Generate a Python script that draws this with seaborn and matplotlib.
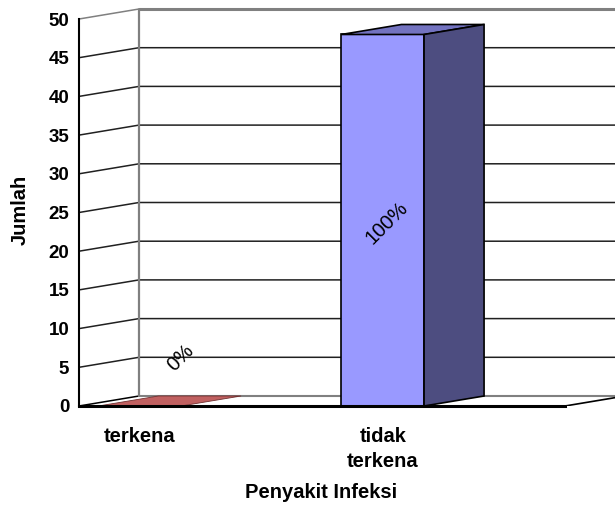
import matplotlib
matplotlib.use("Agg")
import matplotlib.pyplot as plt
from matplotlib.patches import Polygon
import pandas as pd
import seaborn as sns

# Data
categories = ["terkena", "tidak terkena"]
jumlah = [0, 48]
persen = ["0%", "100%"]
# category slots on the x axis (two of them stay empty)
slots = ["terkena", " ", "tidak terkena", "  "]
slot_labels = ["terkena", "", "tidak\nterkena", ""]
y_ticks = list(range(0, 51, 5))

front_colors = {"terkena": "#C06060", "tidak terkena": "#9999FF"}
top_colors = {"terkena": "#C06060", "tidak terkena": "#7373C0"}
side_colors = {"terkena": "#804040", "tidak terkena": "#4D4D80"}

sns.set_style("white")
plt.rcParams["font.family"] = ["Liberation Sans", "DejaVu Sans"]
plt.rcParams.update({"text.color": "black", "axes.labelcolor": "black",
                     "xtick.color": "black", "ytick.color": "black"})

W, H = 615, 507
fig = plt.figure(figsize=(W / 100, H / 100), dpi=100)
fig.patch.set_facecolor("white")

# axes area: front plane starts at pixel (79, 406); back wall reaches top/right
ax = fig.add_axes([79 / W, 101 / H, 536 / W, 397 / H])

slot_px = 121.5           # pixels per category slot
unit_px = (406 - 19) / 50  # pixels per y unit
dx = 60 / slot_px          # depth offset (x, data units)
dy = 10 / unit_px          # depth offset (y, data units)
x_left = -0.5
x_front_right = len(slots) - 0.5
x_max = x_left + 536 / slot_px
y_max = 50 + dy

df = pd.DataFrame({"kategori": categories, "jumlah": jumlah})
sns.barplot(data=df, x="kategori", y="jumlah", order=slots, width=0.68,
            color="#9999FF", edgecolor="black", linewidth=1.2, ax=ax,
            errorbar=None, zorder=3)

ax.set_xlim(x_left, x_max)
ax.set_ylim(0, y_max)

# back wall and its gridlines
grid_kw = dict(lw=1.1, zorder=1, clip_on=False)
for v in y_ticks:
    if v == 0:
        ax.plot([x_left, x_left + dx], [0, dy], color="black", **grid_kw)
        ax.plot([x_left + dx, x_max], [dy, dy], color="#808080", lw=1.5, zorder=1)
    elif v == 50:
        ax.plot([x_left, x_left + dx], [v, v + dy], color="#808080", **grid_kw)
        ax.plot([x_left + dx, x_max], [v + dy, v + dy], color="#808080", lw=2.2,
                zorder=1, clip_on=False)
    else:
        ax.plot([x_left, x_left + dx, x_max], [v, v + dy, v + dy],
                color="#202020", **grid_kw)
ax.plot([x_left + dx, x_left + dx], [dy, 50 + dy], color="#808080", lw=1.6,
        zorder=1)
# right edge of the floor
ax.plot([x_front_right, x_front_right + dx], [0, dy], color="black", lw=1.2,
        zorder=1)

# 3D faces for each bar, built from the bar patches
for patch in ax.patches:
    if not isinstance(patch, matplotlib.patches.Rectangle):
        continue
    x0, w, h = patch.get_x(), patch.get_width(), patch.get_height()
    idx = int(round(x0 + w / 2))
    name = slots[idx]
    if name not in front_colors:
        continue
    patch.set_facecolor(front_colors[name])
    x1 = x0 + w
    top = Polygon([(x0, h), (x1, h), (x1 + dx, h + dy), (x0 + dx, h + dy)],
                  closed=True, facecolor=top_colors[name],
                  edgecolor="black" if h > 0 else "#703030",
                  lw=1.2 if h > 0 else 0.6, zorder=3)
    ax.add_patch(top)
    if h > 0:
        side = Polygon([(x1, 0), (x1 + dx, dy), (x1 + dx, h + dy), (x1, h)],
                       closed=True, facecolor=side_colors[name],
                       edgecolor="black", lw=1.2, zorder=3)
        ax.add_patch(side)
    # percentage label
    pct = persen[categories.index(name)]
    if h > 0:
        lx, ly = x0 + w / 2 + 0.03, h / 2 - 0.4
    else:
        lx, ly = x0 + w / 2 + 0.34, h + 6.2
    ax.text(lx, ly, pct, rotation=45, ha="center", va="center",
            fontsize=14.5, color="black", zorder=5, rotation_mode="anchor")

# axes styling
for s in ("top", "right"):
    ax.spines[s].set_visible(False)
ax.spines["left"].set_bounds(0, 50)
ax.spines["left"].set_linewidth(1.5)
ax.spines["left"].set_color("black")
ax.spines["bottom"].set_bounds(x_left, x_front_right)
ax.spines["bottom"].set_linewidth(2.2)
ax.spines["bottom"].set_color("black")
ax.spines["left"].set_zorder(4)
ax.spines["bottom"].set_zorder(4)

ax.set_yticks(y_ticks)
ax.set_yticklabels([str(v) for v in y_ticks], fontsize=13.5, fontweight="bold")
ax.tick_params(axis="y", length=5, width=1.2, direction="out", pad=2,
               color="black", labelcolor="black")

ax.set_xticks([x_left + i for i in range(len(slots) + 1)])
ax.set_xticklabels([""] * (len(slots) + 1))
ax.tick_params(axis="x", which="major", length=6, width=1.2, direction="out",
               color="black")
ax.set_xticks(list(range(len(slots))), minor=True)
ax.set_xticklabels(slot_labels, minor=True, fontsize=14.5, fontweight="bold",
                   linespacing=1.4, color="black")
ax.tick_params(axis="x", which="minor", length=0, pad=15)

ax.set_xlabel("Penyakit Infeksi", fontsize=14.5, fontweight="bold",
              color="black")
ax.xaxis.set_label_coords((321 - 79) / 536, -(493 - 406) / 397)
ax.xaxis.label.set_va("center")
ax.set_ylabel("Jumlah", fontsize=14.5, fontweight="bold", color="black")
ax.yaxis.set_label_coords((20 - 79) / 536, (406 - 210) / 397)
ax.yaxis.label.set_va("center")

fig.savefig("out.png", dpi=100, facecolor="white")
